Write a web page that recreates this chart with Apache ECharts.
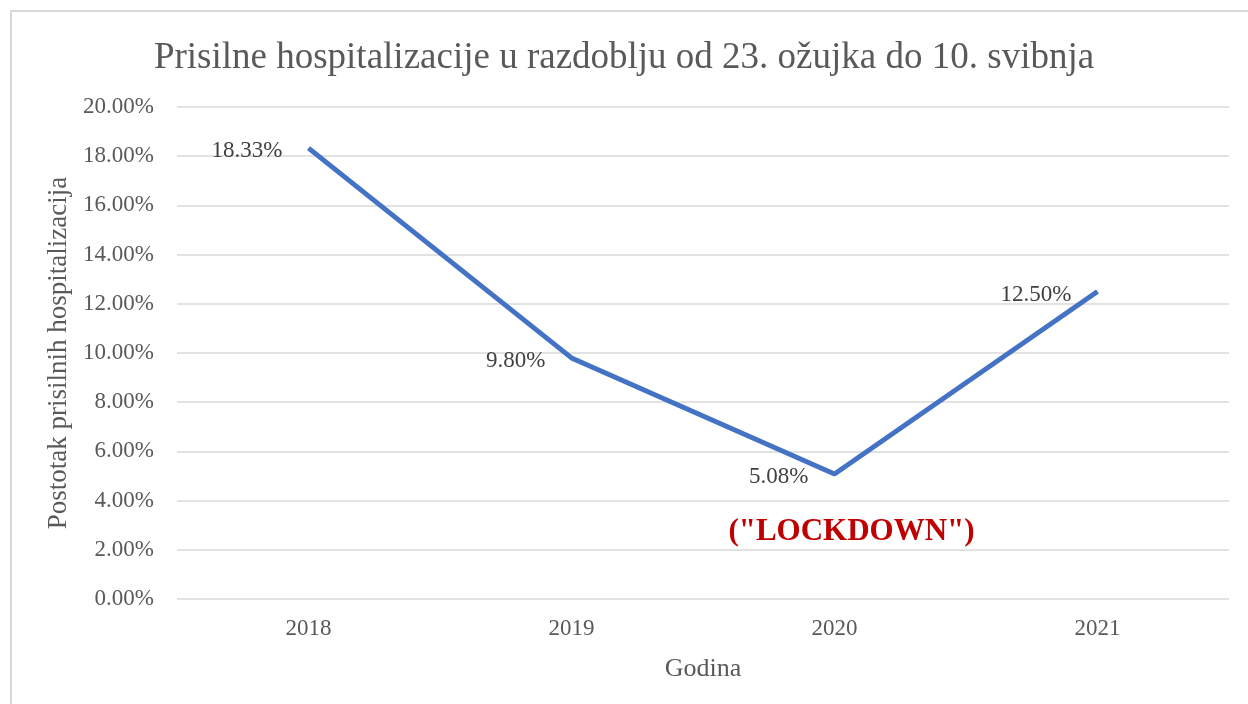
<!DOCTYPE html>
<html>
<head>
<meta charset="utf-8">
<script src="https://cdn.jsdelivr.net/npm/echarts@6/dist/echarts.min.js"></script>
<style>html,body{margin:0;padding:0;background:#fff}#c{width:1248px;height:704px}</style>
</head>
<body>
<div id="c"></div>
<script>
const categories = ['2018', '2019', '2020', '2021'];
const values = [18.33, 9.80, 5.08, 12.50];
const yTicks = { min: 0, max: 20, interval: 2 };
const titleText = 'Prisilne hospitalizacije u razdoblju od 23. ožujka do 10. svibnja';
const yName = 'Postotak prisilnih hospitalizacija';
const xName = 'Godina';
const annotation = { category: '2020', value: 2.8, text: '("LOCKDOWN")' };

const FONT = '"Liberation Serif", "Times New Roman", serif';
const chart = echarts.init(document.getElementById('c'), null, { renderer: 'canvas' });
chart.setOption({
  backgroundColor: '#fff',
  animation: false,
  textStyle: { fontFamily: FONT },
  graphic: [{
    type: 'rect', silent: true,
    shape: { x: 11, y: 11, width: 1400, height: 900 },
    style: { fill: 'none', stroke: '#d9d9d9', lineWidth: 2 }
  }],
  title: {
    text: titleText, left: 'center', top: 35,
    textStyle: { fontFamily: FONT, fontSize: 37, fontWeight: 'normal', color: '#595959' }
  },
  grid: { left: 177, right: 19, top: 107, bottom: 105 },
  xAxis: {
    type: 'category', data: categories, boundaryGap: true,
    name: xName, nameLocation: 'middle', nameGap: 57,
    nameTextStyle: { fontFamily: FONT, fontSize: 26, color: '#595959' },
    axisLine: { show: false }, axisTick: { show: false },
    axisLabel: { fontFamily: FONT, fontSize: 23, color: '#595959', margin: 18 }
  },
  yAxis: {
    type: 'value', min: yTicks.min, max: yTicks.max, interval: yTicks.interval,
    name: yName, nameLocation: 'middle', nameGap: 101, nameRotate: 90,
    nameTextStyle: { fontFamily: FONT, fontSize: 27, color: '#595959' },
    axisLine: { show: false }, axisTick: { show: false },
    axisLabel: { fontFamily: FONT, fontSize: 23, color: '#595959', margin: 23,
      formatter: v => v.toFixed(2) + '%' },
    splitLine: { lineStyle: { color: '#d9d9d9', width: 1.5 } }
  },
  series: [{
    type: 'line', data: values, symbol: 'circle', symbolSize: 0, showSymbol: true,
    itemStyle: { color: '#4472C4' },
    lineStyle: { color: '#4472C4', width: 5 },
    label: { show: true, position: 'left', distance: 26, offset: [0, 3],
      fontFamily: FONT, fontSize: 23, color: '#404040',
      formatter: p => p.value.toFixed(2) + '%' },
    markPoint: {
      symbol: 'circle', symbolSize: 0, silent: true,
      data: [{ coord: [annotation.category, annotation.value] }],
      label: { show: true, position: 'inside', offset: [17, 2],
        formatter: annotation.text,
        fontFamily: FONT, fontSize: 31, fontWeight: 'bold', color: '#C00000' }
    }
  }]
});
</script>
</body>
</html>
